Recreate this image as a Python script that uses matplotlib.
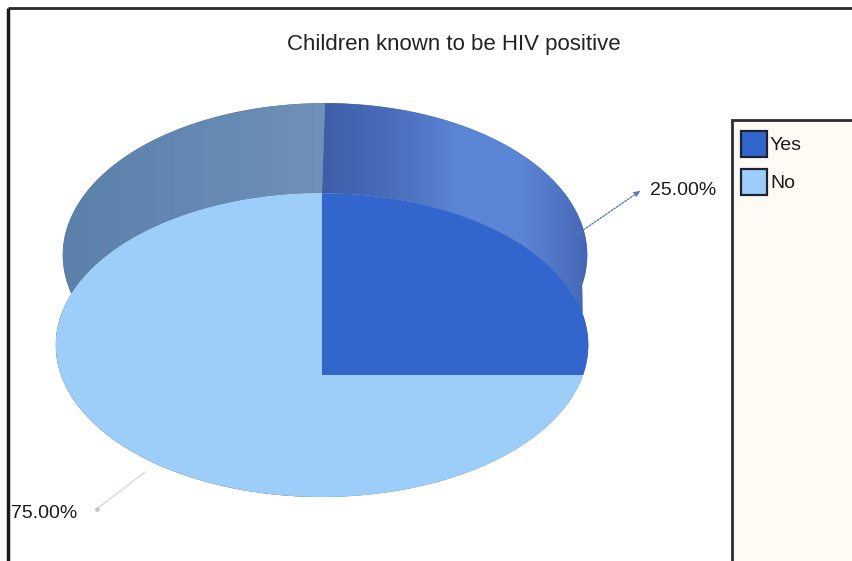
import numpy as np
import matplotlib
matplotlib.use("Agg")
import matplotlib.pyplot as plt
from matplotlib.patches import Polygon, Rectangle
from matplotlib.colors import LinearSegmentedColormap

# ---- data -------------------------------------------------------------
title = "Children known to be HIV positive"
categories = ["Yes", "No"]
shares = [25.0, 75.0]
value_labels = ["25.00%", "75.00%"]

face_colors = ["#3366cc", "#9dcdf9"]
wall_colors = [["#3d5ea6", "#4a6cba", "#5a84d4", "#5d86d6", "#4566b4"],
               ["#5b80aa", "#6488b1", "#7091b8"]]

plt.rcParams["font.family"] = ["Liberation Sans", "DejaVu Sans"]

W, H = 853, 561
fig = plt.figure(figsize=(W / 100, H / 100), dpi=100)
ax = fig.add_axes([0, 0, 1, 1])
ax.set_xlim(0, W)
ax.set_ylim(H, 0)
ax.axis("off")

# ---- tilted pie geometry (pixel space) -------------------------------
cx, cy = 322.0, 375.0      # centre of the visible face
A, B, k = 261.0, 146.0, -0.197   # radii and perspective factor
depth = 90.0
back_dx, back_sx = 3.0, 0.985


def face_pts(theta):
    t = np.radians(theta)
    u, v = np.cos(t), np.sin(t)
    w = 1 + k * v
    return cx + A * u / w, cy - B * v / w


def back_pts(theta):
    x, y = face_pts(theta)
    return cx + back_dx + back_sx * (x - cx), y - depth


bounds = np.concatenate([[0.0], np.cumsum(shares)]) / sum(shares) * 360.0

# side walls, shaded with a horizontal gradient
for i in range(len(shares)):
    a0, a1 = bounds[i], bounds[i + 1]
    t = np.linspace(a0, a1, 200)
    fx, fy = face_pts(t)
    bx, by = back_pts(t)
    px = np.concatenate([fx, bx[::-1]])
    py = np.concatenate([fy, by[::-1]])
    poly = Polygon(np.column_stack([px, py]), closed=True,
                   facecolor="#4566b4", edgecolor="none", zorder=1)
    ax.add_patch(poly)
    cmap = LinearSegmentedColormap.from_list(f"wall{i}", wall_colors[i])
    grad = np.linspace(0, 1, 256)[None, :]
    x_hi = px.max() if i == 0 else cx + back_dx
    im = ax.imshow(grad, cmap=cmap, aspect="auto",
                   extent=[px.min(), x_hi, py.max(), py.min()],
                   zorder=2, interpolation="bilinear")
    im.set_clip_path(poly)

# visible face wedges
for i in range(len(shares)):
    a0, a1 = bounds[i], bounds[i + 1]
    t = np.linspace(a0, a1, 300)
    fx, fy = face_pts(t)
    px = np.concatenate([[cx], fx])
    py = np.concatenate([[cy], fy])
    ax.add_patch(Polygon(np.column_stack([px, py]), closed=True,
                         facecolor=face_colors[i], edgecolor="none",
                         zorder=3))

# ---- value labels with leader lines -----------------------------------
ax.annotate("", xy=(643, 189), xytext=(573, 237),
            arrowprops=dict(arrowstyle="-|>,head_length=0.35,head_width=0.15",
                            color="#5b77b8", lw=1.0, linestyle=(0, (1.2, 1.2))),
            zorder=5)
ax.text(650, 190, value_labels[0], fontsize=14, color="#1a1a1a",
        ha="left", va="center", zorder=6)

ax.plot([145, 98], [472, 508], color="#e3d6d6", lw=1.0, zorder=5)
ax.plot([97], [509], marker="o", ms=2.5, color="#c8c8cc", zorder=5)
ax.text(11, 513, value_labels[1], fontsize=14, color="#1a1a1a",
        ha="left", va="center", zorder=6)

# ---- title ------------------------------------------------------------
ax.text(454, 44, title, fontsize=16, color="#222222",
        ha="center", va="center", zorder=6)

# ---- frame ------------------------------------------------------------
ax.plot([8, W], [8, 8], color="#2a2a2a", lw=2.0, zorder=7, solid_capstyle="butt")
ax.plot([8, 8], [8, H], color="#1a1a1a", lw=2.5, zorder=7, solid_capstyle="butt")

# ---- legend box -------------------------------------------------------
ax.add_patch(Rectangle((732, 120), W - 732 + 5, H - 120 + 5,
                       facecolor="#fefbf4", edgecolor="#2e2e2e", lw=2.0,
                       zorder=6))
for i, name in enumerate(categories):
    y0 = 131 + i * 38
    ax.add_patch(Rectangle((741, y0), 26, 26, facecolor=face_colors[i],
                           edgecolor="#1e2230", lw=1.6, zorder=7))
    ax.text(770, y0 + 14, name, fontsize=14, color="#1a1a1a",
            ha="left", va="center", zorder=7)

fig.savefig("out.png", dpi=100)
